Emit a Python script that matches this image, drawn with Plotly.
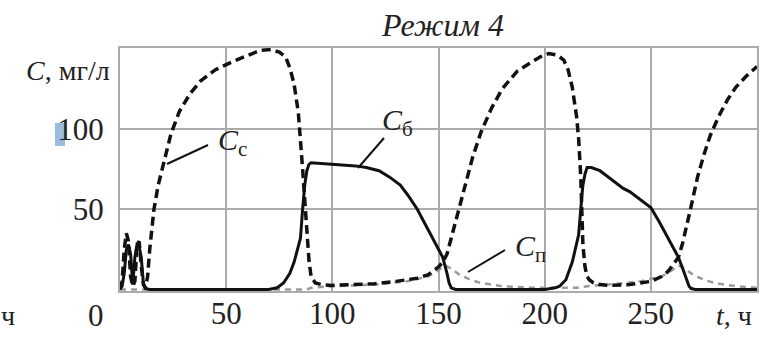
import plotly.graph_objects as go

# Mode 4: concentration profiles over time (hours)
t_s = [0, 1, 2, 3, 4, 5, 6, 7, 8, 9, 10, 11, 12, 13, 14, 16, 18, 20, 24, 28, 33, 38, 45, 53, 60, 66, 71,
       75, 78, 80, 82, 84, 86, 87, 88, 89, 90, 92, 95, 100, 110, 120, 130, 140, 145, 148, 150, 152, 154,
       156, 158, 160, 163, 166, 170, 175, 180, 187, 193, 198, 202, 206, 209, 211, 213, 215, 216, 217,
       218, 219, 220, 221, 223, 226, 230, 240, 250, 255, 258, 261, 263, 265, 267, 269, 272, 275, 278,
       282, 286, 290, 295, 300]
c_s = [0, 5, 25, 35, 30, 8, 2, 5, 28, 30, 15, 3, 1, 8, 25, 50, 65, 76, 97, 111, 122, 130, 137, 142, 146,
       149, 149.5, 148, 145, 138, 128, 110, 75, 55, 34, 18, 8, 4, 3, 2.5, 3, 3.5, 5, 7, 9, 12, 14, 17, 22,
       32, 42, 52, 68, 82, 98, 113, 125, 136, 141, 145, 147, 146, 143, 137, 126, 108, 94, 70,
       28, 14, 8, 6, 4, 3, 2.5, 3, 5, 8, 11, 16, 20, 29, 40, 52, 70, 84, 96,
       108, 118, 126, 133, 139]

t_b = [0, 1, 2, 3, 4, 5, 6, 7, 8, 9, 10, 11, 12, 14, 40, 70, 74, 77, 80, 82, 84, 85, 86, 87, 88, 89, 90,
       95, 100, 105, 111, 116, 122, 127, 132, 136, 140, 144, 148, 152, 154, 155, 156, 158, 200, 205,
       207, 210, 213, 215, 216, 217, 218, 219, 220, 222, 226, 229, 233, 237, 240, 244, 247, 250, 254,
       258, 261, 263, 265, 267, 268, 269, 271, 300]
c_b = [0, 2, 10, 25, 28, 22, 3, 20, 28, 27, 20, 4, 0.5, 0, 0, 0, 1, 4, 10, 17, 27, 32, 50, 65, 74, 78, 79,
       78.5, 78, 77.5, 77, 76, 74, 70, 65, 58, 50, 40, 30, 20, 10, 4, 1, 0, 0, 1,
       2, 6, 17, 28, 34, 50, 65, 72, 76, 76, 74, 71, 67, 63, 61, 57, 54, 51, 42,
       32, 25, 20, 13, 5, 2, 0.5, 0, 0]

t_p = [0, 88, 90, 100, 120, 135, 145, 150, 153, 156, 160, 165, 170, 180, 195, 215, 220, 230, 245, 255,
       260, 263, 266, 270, 275, 280, 290, 300]
c_p = [0, 0, 1, 2, 3, 5, 8, 12, 15, 13, 9, 6, 4, 2, 1, 1, 2, 3, 5, 8,
       12, 15, 13, 9, 6, 4, 2, 1]

x_ticks = [50, 100, 150, 200, 250]
y_ticks = [50, 100]

SERIF = "Liberation Serif, DejaVu Serif, Noto Serif, serif"
GRID = "#ababab"

fig = go.Figure()
fig.add_trace(go.Scatter(x=t_p, y=c_p, mode="lines",
                         line=dict(color="#9a9a9a", width=2.5, dash="6px,5px")))
fig.add_trace(go.Scatter(x=t_b, y=c_b, mode="lines",
                         line=dict(color="#111111", width=3)))
fig.add_trace(go.Scatter(x=t_s, y=c_s, mode="lines",
                         line=dict(color="#111111", width=3.5, dash="9px,5px")))

fig.update_layout(
    width=768, height=338,
    margin=dict(l=120, r=11, t=48, b=47),
    paper_bgcolor="white", plot_bgcolor="white",
    showlegend=False,
    font=dict(family=SERIF, color="#222222"),
    xaxis=dict(range=[0, 300], tickvals=x_ticks, ticktext=[str(v) for v in x_ticks],
               showgrid=True, gridcolor=GRID, gridwidth=2, zeroline=False,
               showline=True, linecolor=GRID, linewidth=2, mirror=True, automargin=False,
               ticks="", ticklabelstandoff=-6, tickfont=dict(size=31, family=SERIF, color="#222")),
    yaxis=dict(range=[-1, 150.5], tickvals=y_ticks, ticktext=[str(v) for v in y_ticks],
               showgrid=True, gridcolor=GRID, gridwidth=2, zeroline=False,
               showline=True, linecolor=GRID, linewidth=2, mirror=True, automargin=False,
               ticks="", ticklabelstandoff=8, tickfont=dict(size=31, family=SERIF, color="#222")),
)

# highlight behind the leading digit of "100"
fig.add_shape(type="rect", xref="paper", yref="paper", layer="below",
              x0=(55 - 120) / 637, x1=(65 - 120) / 637,
              y0=(291 - 146) / 243, y1=(291 - 123) / 243,
              fillcolor="#9dbde0", line=dict(width=0))


def ann(text, px, py, size, xanchor="center", italic=False):
    fig.add_annotation(text=f"<i>{text}</i>" if italic else text,
                       xref="paper", yref="paper",
                       x=(px - 120) / 637, y=(291 - py) / 243,
                       xanchor=xanchor, yanchor="middle", showarrow=False,
                       font=dict(family=SERIF, size=size, color="#222222"))


ann("Режим 4", 442, 25, 32, italic=True)
ann("<i>C</i>, мг/л", 24, 70, 28, xanchor="left")
ann("<i>t</i>, ч", 714, 315, 28, xanchor="left")
ann("0", 96, 315, 31)
ann("ч", 8, 315, 28)
ann("<i>C</i><sub>с</sub>", 232, 142, 30)
ann("<i>C</i><sub>б</sub>", 397, 122, 30)
ann("<i>C</i><sub>п</sub>", 530, 248, 30)

# leader lines from the curve labels
for (x0, y0, x1, y1) in [(167, 164, 208, 145), (358, 168, 384, 138), (468, 272, 505, 250)]:
    fig.add_shape(type="line", xref="paper", yref="paper",
                  x0=(x0 - 120) / 637, y0=(291 - y0) / 243,
                  x1=(x1 - 120) / 637, y1=(291 - y1) / 243,
                  line=dict(color="#111111", width=2))

fig.write_html("out.html")
